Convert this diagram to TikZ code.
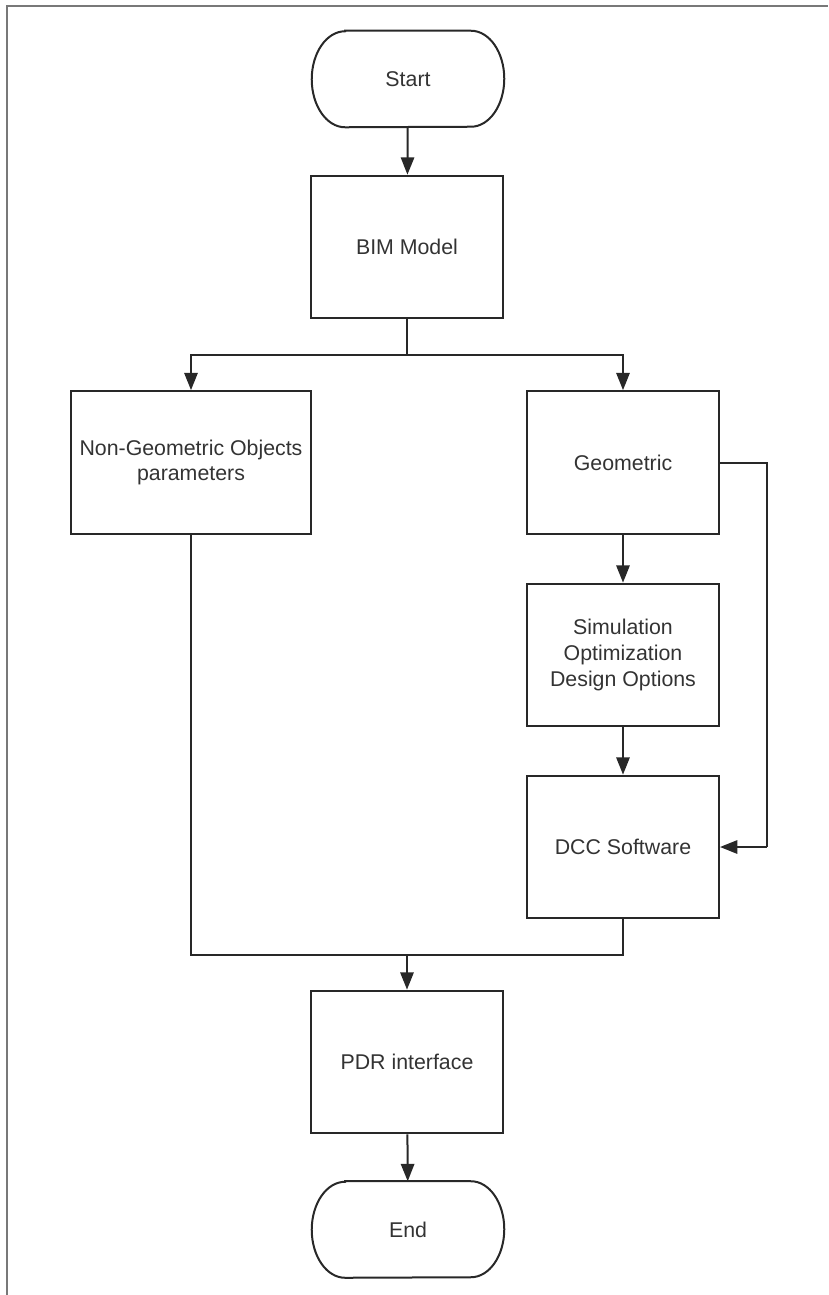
\documentclass[tikz,border=0pt]{standalone}
\usepackage{fontspec}
\setmainfont{Liberation Sans}
\usetikzlibrary{arrows.meta}

\definecolor{framegray}{RGB}{120,120,120}
\definecolor{linegray}{RGB}{40,40,40}
\definecolor{textgray}{RGB}{51,51,51}

\begin{document}
\begin{tikzpicture}[x=0.75pt, y=-0.75pt,
  box/.style={draw=linegray, line width=1.5pt, minimum width=144pt, minimum height=107pt,
    inner sep=2pt, align=center, font=\fontsize{16}{19.3}\selectfont, text=textgray},
  terminal/.style={minimum width=144pt, minimum height=72pt, inner sep=0pt,
    font=\fontsize{16}{19.3}\selectfont, text=textgray},
  link/.style={line width=1.5pt, draw=linegray},
  flow/.style={link, -{Triangle[width=10pt, length=13pt]}}]
  \useasboundingbox (0,0) rectangle (828,1295);

  % page frame
  \draw[framegray, line width=1.3pt] (7,1295) -- (7,6) -- (828,6);

  % nodes
  \node[terminal] (start) at (408,79) {Start};
  \node[box] (bim) at (407,247) {BIM Model};
  \node[box, minimum width=180pt] (nongeo) at (191,462.5) {Non-Geometric Objects\\parameters};
  \node[box] (geo) at (623,462.5) {Geometric};
  \node[box] (sim) at (623,655) {Simulation\\Optimization\\Design Options};
  \node[box] (dcc) at (623,847) {DCC Software};
  \node[box] (pdr) at (407,1062) {PDR interface};
  \node[terminal] (finish) at (408,1229.5) {End};

  % terminal outlines
  \foreach \n in {start,finish}
    \draw[link] ([xshift=25pt]\n.north west) -- ([xshift=-25pt]\n.north east)
      arc[start angle=90, end angle=-90, x radius=25pt, y radius=36pt]
      -- ([xshift=25pt]\n.south west)
      arc[start angle=270, end angle=90, x radius=25pt, y radius=36pt] -- cycle;

  \coordinate (split) at (407,355);
  \coordinate (loop) at (767,847);
  \coordinate (merge) at (407,955);

  % connectors
  \draw[flow] (start) -- (bim);
  \draw[link] (bim) -- (split);
  \draw[flow] (split) -| (nongeo);
  \draw[flow] (split) -| (geo);
  \draw[flow] (geo) -- (sim);
  \draw[flow] (sim) -- (dcc);
  \draw[link] (geo.east) -| (loop);
  \draw[flow] (loop) -- (dcc.east);
  \draw[link] (nongeo) |- (merge);
  \draw[link] (dcc) |- (merge);
  \draw[flow] (merge) -- (pdr);
  \draw[flow] (pdr) -- (finish);
\end{tikzpicture}
\end{document}
